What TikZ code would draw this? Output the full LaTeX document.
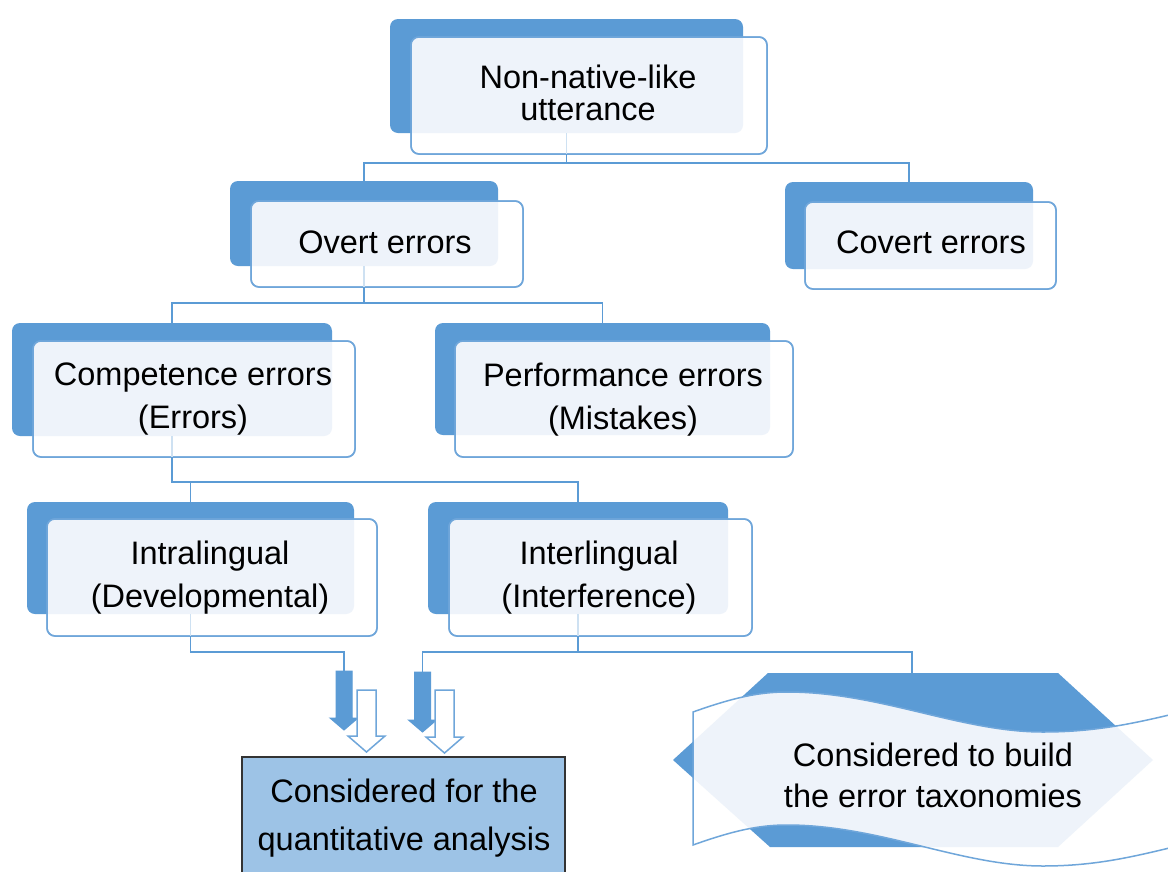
\documentclass[tikz,border=0pt]{standalone}
\usepackage{fontspec}
\setmainfont{Liberation Sans}
\usetikzlibrary{fit}
\definecolor{dblue}{HTML}{5B9BD5}
\definecolor{lfill}{HTML}{EEF3FA}
\definecolor{qfill}{HTML}{9DC3E6}
\definecolor{fline}{HTML}{6FA6DA}
\tikzset{
  darkbox/.style={fill=dblue, rounded corners=8pt, inner sep=0pt, outer sep=0pt, draw=none},
  frontbox/.style={fill=white, draw=fline, line width=1.5pt, rounded corners=8pt, inner sep=0pt, outer sep=0pt},
  conn/.style={draw=dblue, line width=1.6pt},
  faint/.style={draw=dblue!30, line width=1.2pt},
  lbl/.style={anchor=base, inner sep=0pt, font=\fontsize{32.5}{39}\selectfont, text=black},
  qbox/.style={fill=qfill, draw=black!80, line width=1.5pt, inner sep=0pt, outer sep=0pt},
  darrow/.style={fill=dblue, draw=dblue, line width=1pt, line join=miter},
  harrow/.style={fill=white, draw=fline, line width=1.5pt, line join=miter},
}
\newcommand{\mybox}[9]{%
  \node[darkbox, fit={(#2,#3)(#4,#5)}] (#1D) {};
  \node[frontbox, fit={(#6,#7)(#8,#9)}] (#1) {};
  \begin{scope}
    \clip[rounded corners=8pt] (#2,#3) rectangle (#4,#5);
    \fill[lfill, rounded corners=8pt] (#6,#7) rectangle (#8,#9);
  \end{scope}
  \draw[fline, line width=1.5pt, rounded corners=8pt] (#1.north west) rectangle (#1.south east);
}
\newcommand{\myarrow}[8]{%
  \path[#8] ({#2-#4/2},#3) -- ({#2+#4/2},#3) -- ({#2+#4/2},#6) -- ({#2+#5/2},#6)
    -- (#2,#7) -- ({#2-#5/2},#6) -- ({#2-#4/2},#6) -- cycle;
  \coordinate (#1) at (#2,#3);
}
\begin{document}
\begin{tikzpicture}[x=1pt, y=-1pt]
\useasboundingbox (0,0) rectangle (1168,871);
\clip (0,0) rectangle (1168,871);
\fill[white] (0,0) rectangle (1168,871);

% boxes
\mybox{nn}{390}{19}{743}{133}{411}{37}{767}{154}
\mybox{overt}{230}{181}{498}{266}{251}{201}{523}{287}
\mybox{covert}{785}{182}{1033}{269}{805}{202}{1056}{289}
\mybox{comp}{12}{323}{332}{436}{33}{341}{355}{457}
\mybox{perf}{435}{323}{770}{435}{455}{341}{793}{457}
\mybox{intra}{27}{502}{354}{614}{47}{519}{377}{636}
\mybox{inter}{428}{502}{728}{614}{449}{519}{752}{636}

% labels
\node[lbl] (t1a) at (588,88) {Non-native-like};
\node[lbl] (t1b) at (588,120) {utterance};
\node[lbl] (t2) at (385,253) {Overt errors};
\node[lbl] (t3) at (931,253) {Covert errors};
\node[lbl] (t4a) at (193,385) {Competence errors};
\node[lbl] (t4b) at (193,428) {(Errors)};
\node[lbl] (t5a) at (623,386) {Performance errors};
\node[lbl] (t5b) at (623,429) {(Mistakes)};
\node[lbl] (t6a) at (210,564) {Intralingual};
\node[lbl] (t6b) at (210,607) {(Developmental)};
\node[lbl] (t7a) at (599,564) {Interlingual};
\node[lbl] (t7b) at (599,607) {(Interference)};

% bus coordinates
\coordinate (bus1) at (0,163);
\coordinate (bus2) at (0,303);
\coordinate (bus3) at (0,482);
\coordinate (bus4) at (0,652);

% connectors
\draw[faint] (nnD.south) -- (nnD.south |- nn.south);
\draw[conn] (nnD.south |- nn.south) -- (nnD.south |- bus1);
\draw[conn] (overtD.north) |- (bus1 -| covertD.north) -- (covertD.north);

\draw[faint] (overtD.south) -- (overtD.south |- overt.south);
\draw[conn] (overtD.south |- overt.south) -- (overtD.south |- bus2);
\draw[conn] (compD.north) |- (bus2 -| perfD.north) -- (perfD.north);

\draw[faint] (compD.south) -- (compD.south |- comp.south);
\draw[conn] (compD.south |- comp.south) |- (bus3 -| interD.north) -- (interD.north);
\draw[conn] (bus3 -| intraD.north) -- (intraD.north);

% arrows
\myarrow{a1}{344}{671}{16}{28}{718}{730}{darrow}
\myarrow{h1}{366.5}{690}{19}{37}{736}{752}{harrow}
\myarrow{a2}{422.5}{672}{16}{28}{720}{732}{darrow}
\myarrow{h2}{444.5}{690}{19}{37}{737}{753}{harrow}

% quantitative box
\node[qbox, fit={(242,757)(565,890)}] (quant) {};
\node[lbl] (t8a) at (404,802) {Considered for the};
\node[lbl] (t8b) at (404,850) {quantitative analysis};

% hexagon with wave banner
\path[fill=dblue] (768,673) -- (1058,673) -- (1153,760) -- (1058,847) -- (770,847) -- (673,760) -- cycle;
\coordinate (hexTop) at (912,673);
\def\wave{(693,712) .. controls (735,697) and (760,692) .. (787,692)
  .. controls (880,692) and (960,732) .. (1043,732)
  .. controls (1100,732) and (1140,722) .. (1190,710)
  -- (1190,843) .. controls (1140,855) and (1100,866) .. (1043,866)
  .. controls (960,866) and (880,825) .. (787,825)
  .. controls (760,825) and (735,830) .. (693,845) -- cycle}
\fill[white] \wave;
\begin{scope}
  \clip (768,673) -- (1058,673) -- (1153,760) -- (1058,847) -- (770,847) -- (673,760) -- cycle;
  \fill[lfill] \wave;
\end{scope}
\draw[fline, line width=1.5pt] \wave;
\node[lbl] (t9a) at (933,766) {Considered to build};
\node[lbl] (t9b) at (933,807) {the error taxonomies};

% lower connectors
\draw[faint] (intraD.south) -- (intraD.south |- intra.south);
\draw[conn] (intraD.south |- intra.south) |- (bus4 -| a1) -- (a1);
\draw[faint] (interD.south) -- (interD.south |- inter.south);
\draw[conn] (interD.south |- inter.south) -- (interD.south |- bus4);
\draw[conn] (a2) |- (bus4 -| hexTop) -- (hexTop);
\end{tikzpicture}
\end{document}
